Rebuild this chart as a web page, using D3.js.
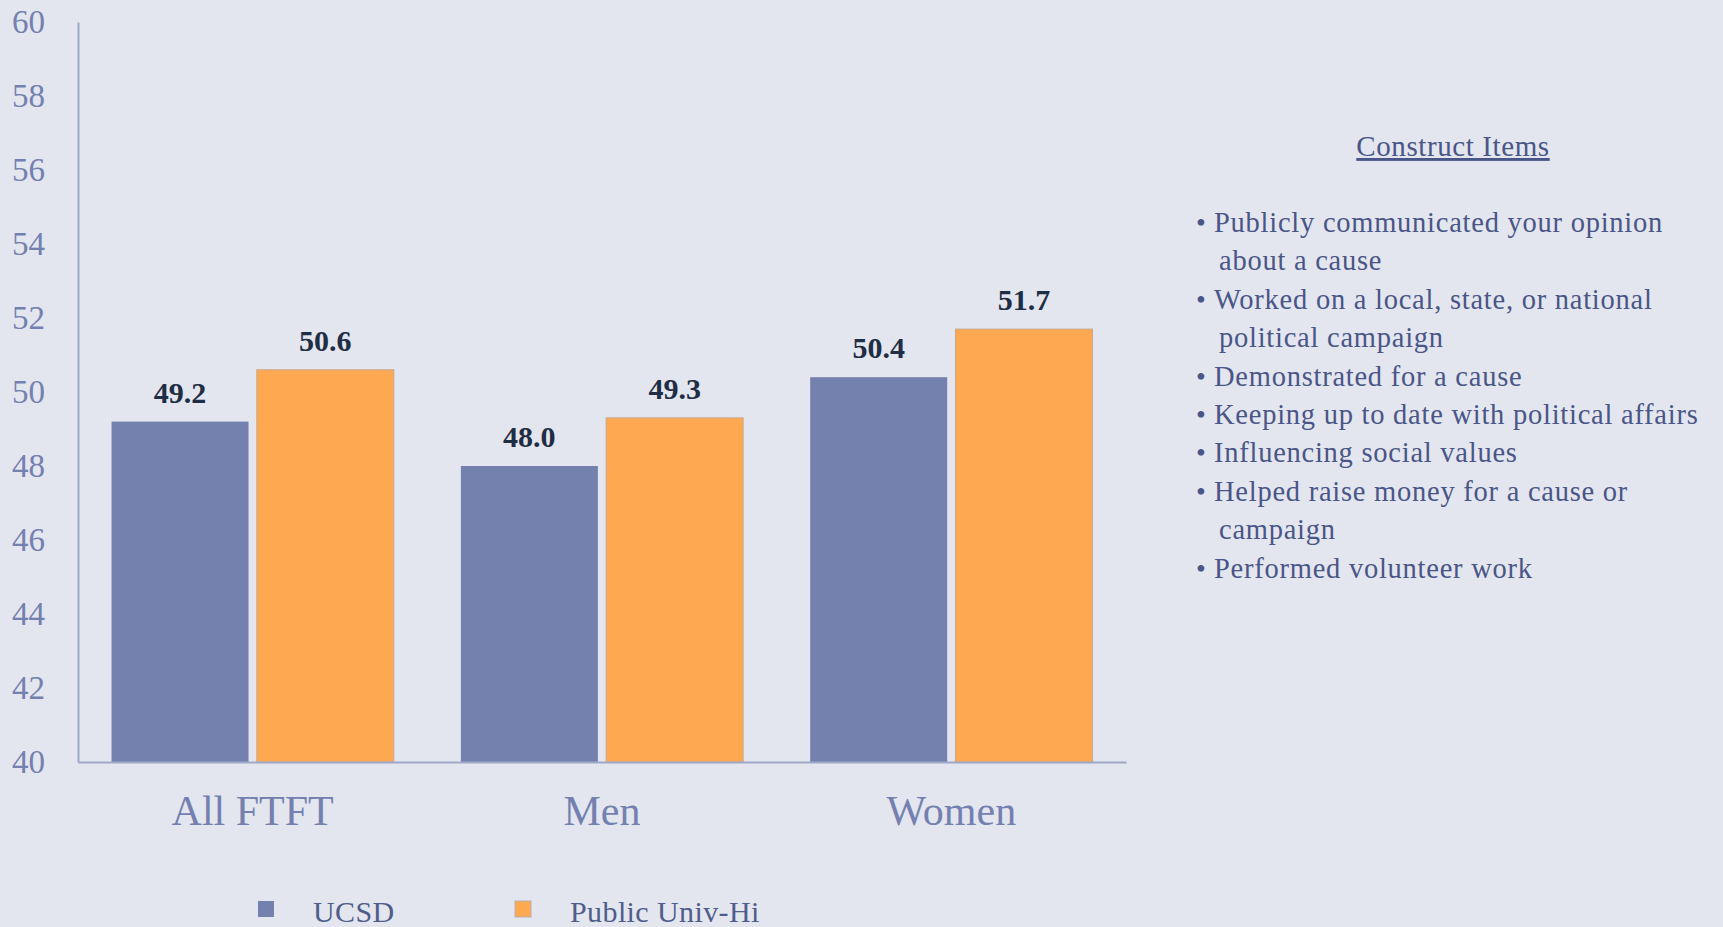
<!DOCTYPE html>
<meta charset="utf-8">
<style>
body { margin: 0; background: #e3e6ee; }
svg { display: block; font-family: "Liberation Serif", "DejaVu Serif", serif; }
.axis path { stroke: #a0a8c8; stroke-width: 2px; }
.axis text { fill: #7480b0; font-family: "Liberation Serif", serif; }
</style>
<body>
<script src="https://d3js.org/d3.v7.min.js"></script>
<script>

// chart data
var categories = ["All FTFT", "Men", "Women"];
var seriesNames = ["UCSD", "Public Univ-Hi"];
var ucsd = [49.2, 48.0, 50.4];
var publicHi = [50.6, 49.3, 51.7];
var yTicks = [40, 42, 44, 46, 48, 50, 52, 54, 56, 58, 60];
var itemsTitle = "Construct Items";
var items = [
  ["Publicly communicated your opinion", "about a cause"],
  ["Worked on a local, state, or national", "political campaign"],
  ["Demonstrated for a cause"],
  ["Keeping up to date with political affairs"],
  ["Influencing social values"],
  ["Helped raise money for a cause or", "campaign"],
  ["Performed volunteer work"]
];

var colors = ["#7480ad", "#ffa852"];

var width = 1723, height = 927;
var plot = {left: 78, right: 1126, top: 22, bottom: 762};

var svg = d3.select("body").append("svg")
    .attr("width", width)
    .attr("height", height);

svg.append("rect").attr("width", width).attr("height", height).attr("fill", "#e3e6ee");

// scales
var y = d3.scaleLinear().domain([40, 60]).range([plot.bottom, plot.top]);
var x0 = d3.scaleBand().domain(categories)
    .range([plot.left, plot.right])
    .paddingInner(0.192).paddingOuter(0.096);
var x1 = d3.scaleBand().domain(seriesNames)
    .range([0, x0.bandwidth()])
    .paddingInner(0.057);

var rows = categories.map(function(c, i) {
  return {cat: c, values: [ucsd[i], publicHi[i]]};
});

// bars
var groups = svg.selectAll(".grp")
  .data(rows)
  .enter().append("g")
    .attr("class", "grp")
    .attr("transform", function(d) { return "translate(" + x0(d.cat) + ",0)"; });

groups.selectAll("rect")
  .data(function(d) { return d.values.map(function(v, j) { return {s: seriesNames[j], v: v, j: j}; }); })
  .enter().append("rect")
    .attr("x", function(d) { return x1(d.s); })
    .attr("y", function(d) { return y(d.v); })
    .attr("width", x1.bandwidth())
    .attr("height", function(d) { return y(40) - y(d.v); })
    .attr("fill", function(d) { return colors[d.j]; })
    .attr("stroke", function(d) { return d.j == 1 ? "#c8a88c" : "none"; })
    .attr("stroke-width", 1);

groups.selectAll(".val")
  .data(function(d) { return d.values.map(function(v, j) { return {s: seriesNames[j], v: v}; }); })
  .enter().append("text")
    .attr("class", "val")
    .attr("x", function(d) { return x1(d.s) + x1.bandwidth() / 2; })
    .attr("y", function(d) { return y(d.v) - 19; })
    .attr("text-anchor", "middle")
    .attr("font-size", "30px")
    .attr("font-weight", "bold")
    .attr("fill", "#1f2d45")
    .text(function(d) { return d.v.toFixed(1); });

// axes
var gY = svg.append("g")
    .attr("class", "axis")
    .attr("transform", "translate(" + plot.left + ",0)")
    .call(d3.axisLeft(y).tickValues(yTicks).tickSize(0).tickSizeOuter(0).tickPadding(33));
gY.selectAll("text").attr("font-size", "33px").attr("dy", "0.33em");

var gX = svg.append("g")
    .attr("class", "axis")
    .attr("transform", "translate(0," + plot.bottom + ")")
    .call(d3.axisBottom(x0).tickSize(0).tickSizeOuter(0));
gX.selectAll("text").attr("font-size", "42px").attr("y", 63).attr("dy", 0);

// legend
var legend = svg.append("g");
var legX = [258, 515];
seriesNames.forEach(function(s, i) {
  legend.append("rect")
    .attr("x", legX[i]).attr("y", 901)
    .attr("width", 16).attr("height", 16)
    .attr("fill", colors[i])
    .attr("stroke", i == 1 ? "#b8b0b0" : "none");
  legend.append("text")
    .attr("x", legX[i] + 55).attr("y", 922)
    .attr("font-size", "30px")
    .attr("letter-spacing", "0.4px")
    .attr("fill", "#505c8c")
    .text(s);
});

// construct items box
var box = svg.append("g");
box.append("text")
  .attr("x", 1453).attr("y", 156)
  .attr("text-anchor", "middle")
  .attr("font-size", "29px")
  .attr("letter-spacing", "0.6px")
  .attr("fill", "#4a5588")
  .attr("text-decoration", "underline")
  .text(itemsTitle);

var lineY = 232, lineH = 38.4;
items.forEach(function(it) {
  it.forEach(function(line, k) {
    if (k == 0) {
      box.append("text")
        .attr("x", 1196).attr("y", lineY)
        .attr("font-size", "28px").attr("fill", "#4a5588")
        .text("\u2022");
    }
    box.append("text")
      .attr("x", k == 0 ? 1214 : 1219).attr("y", lineY)
      .attr("font-size", "28.5px")
      .attr("letter-spacing", "0.75px")
      .attr("fill", "#4a5588")
      .text(line);
    lineY += lineH;
  });
});

</script>
</body>
